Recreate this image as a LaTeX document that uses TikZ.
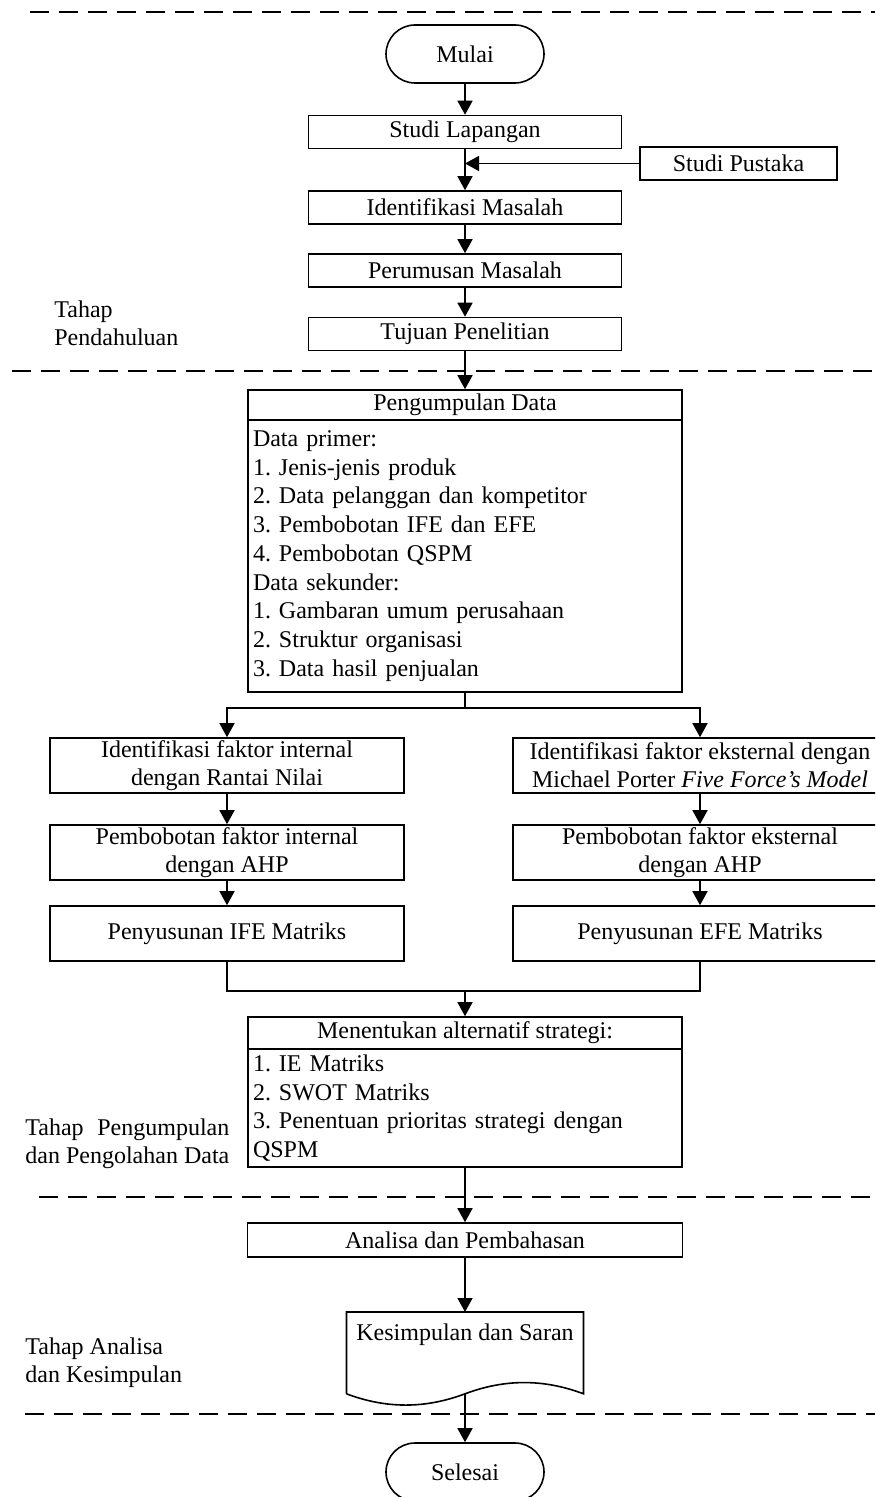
\documentclass[tikz,border=0pt]{standalone}
\usepackage{fontspec}
\setmainfont{Liberation Serif}
\usepackage{calc}
\usetikzlibrary{arrows.meta}
\frenchspacing

\tikzstyle{startstop} = [rectangle, rounded corners=14.5pt, minimum width=79pt, minimum height=29pt, text centered, draw=black, line width=0.8pt]
\tikzstyle{process} = [rectangle, minimum width=156.5pt, minimum height=16.5pt, inner sep=0pt, text centered, draw=black, line width=0.8pt]
\tikzstyle{factor} = [rectangle, minimum height=27.5pt, inner sep=0pt, align=center, draw=black, line width=0.8pt]
\tikzstyle{header} = [rectangle, minimum width=217pt, inner sep=0pt, text centered, draw=black, line width=0.8pt]
\tikzstyle{listbox} = [rectangle, text width=212pt, inner xsep=2.5pt, inner ysep=0pt, align=left, draw=black, line width=0.8pt, font=\fontsize{12}{14.375}\selectfont]
\tikzstyle{doc} = [rectangle, inner xsep=4.75pt, inner ysep=0pt, text height=14pt, text depth=26.5pt]
\tikzstyle{stage} = [anchor=north west, inner sep=0pt, align=left]
\tikzstyle{arrow} = [line width=0.8pt, -{Triangle[width=7.5pt, length=7pt]}]
\tikzstyle{joinline} = [line width=0.8pt]
\tikzstyle{phase} = [line width=1.1pt, dash pattern=on 9.5pt off 5pt]

\begin{document}
\begin{tikzpicture}[x=0.5pt, y=-0.5pt, every node/.style={font=\fontsize{12}{14}\selectfont}]
\useasboundingbox (0,0) rectangle (875,1497);
\clip (0,0) rectangle (875,1497);

% phase separators
\draw[phase] (30,12) -- (875,12);
\draw[phase] (12,371) -- (875,371);
\draw[phase] (39,1197) -- (875,1197);
\draw[phase] (25,1414) -- (875,1414);

\node (pend) [stage] at (54,300) {Tahap\\Pendahuluan};
\node (olah) [stage] at (25,1118) {\makebox[\widthof{dan Pengolahan Data}][s]{Tahap Pengumpulan}\\dan Pengolahan Data};
\node (anls) [stage] at (25,1337) {Tahap Analisa\\dan Kesimpulan};

% pendahuluan
\node (start) [startstop] at (465,54) {Mulai};
\node (lap) [process] at (465,132) {Studi Lapangan};
\node (pustaka) [process, minimum width=98.5pt] at (738.5,163.5) {Studi Pustaka};
\node (masalah) [process] at (465,207.5) {Identifikasi Masalah};
\node (rumus) [process] at (465,270.5) {Perumusan Masalah};
\node (tujuan) [process] at (465,334) {Tujuan Penelitian};

% pengumpulan dan pengolahan data
\node (kumpul) [header, minimum height=15pt] at (465,405) {Pengumpulan Data};
\node (kumpullist) [listbox, minimum height=136pt] at (465,556) {Data primer:\\1. Jenis-jenis produk\\2. Data pelanggan dan kompetitor\\3. Pembobotan IFE dan EFE\\4. Pembobotan QSPM\\Data sekunder:\\1. Gambaran umum perusahaan\\2. Struktur organisasi\\3. Data hasil penjualan};

\node (intl) [factor, minimum width=177pt] at (227,765.5) {Identifikasi faktor internal\\dengan Rantai Nilai};
\node (intw) [factor, minimum width=177pt] at (227,852.5) {Pembobotan faktor internal\\dengan AHP};
\node (ifem) [factor, minimum width=177pt] at (227,933.5) {Penyusunan IFE Matriks};

\node (extl) [factor, minimum width=187pt] at (700,765.5) {Identifikasi faktor eksternal dengan\\Michael Porter \textit{Five Force's Model}};
\node (extw) [factor, minimum width=187pt] at (700,852.5) {Pembobotan faktor eksternal\\dengan AHP};
\node (efem) [factor, minimum width=187pt] at (700,933.5) {Penyusunan EFE Matriks};

\node (strat) [header, minimum height=16pt] at (465,1033) {Menentukan alternatif strategi:};
\node (stratlist) [listbox, minimum height=59pt] at (465,1108) {1. IE Matriks\\2. SWOT Matriks\\3. Penentuan prioritas strategi dengan\\QSPM};

% analisa dan kesimpulan
\node (analisa) [process, minimum width=217.5pt, minimum height=17pt] at (465,1240) {Analisa dan Pembahasan};
\node (ksim) [doc, anchor=north] at (465,1312) {Kesimpulan dan Saran};
\draw[joinline] (ksim.south west) -- (ksim.north west) -- (ksim.north east) -- (ksim.south east)
  .. controls +(-20pt,7.5pt) and +(20pt,7.5pt) .. (ksim.south)
  .. controls +(-20pt,-7.5pt) and +(20pt,-7.5pt) .. (ksim.south west);
\node (fin) [startstop] at (465,1472) {Selesai};

\draw [arrow] (start) -- (lap);
\draw [arrow] (lap) -- (masalah);
\draw [arrow] (pustaka.west) -- (pustaka.west -| lap.south);
\draw [arrow] (masalah) -- (rumus);
\draw [arrow] (rumus) -- (tujuan);
\draw [arrow] (tujuan) -- (kumpul);
\draw [arrow] (kumpullist.south) -- ++(0,-7.5pt) -| (intl);
\draw [arrow] (kumpullist.south) -- ++(0,-7.5pt) -| (extl);
\draw [arrow] (intl) -- (intw);
\draw [arrow] (intw) -- (ifem);
\draw [arrow] (extl) -- (extw);
\draw [arrow] (extw) -- (efem);
\draw [joinline] (ifem.south) -- ++(0,-14.5pt) coordinate (jl) -| (efem.south);
\draw [arrow] (jl -| strat.north) -- (strat);
\draw [arrow] (stratlist) -- (analisa);
\draw [arrow] (analisa) -- (ksim);
\draw [arrow] (ksim.south) -- (fin);

\end{tikzpicture}
\end{document}
